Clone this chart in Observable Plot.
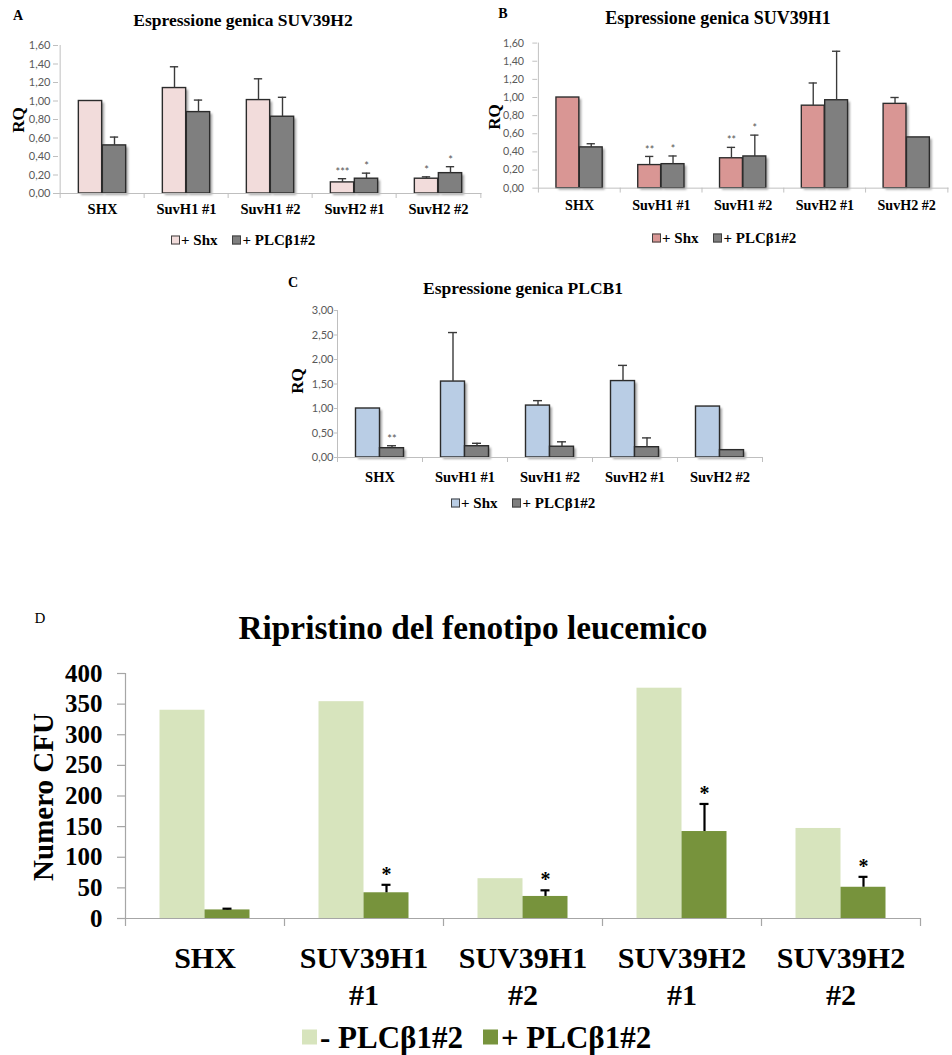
<!DOCTYPE html>
<html><head><meta charset="utf-8">
<script src="https://cdn.jsdelivr.net/npm/d3@7"></script>
<script src="https://cdn.jsdelivr.net/npm/@observablehq/plot@0.6"></script>
<style>
body{margin:0;background:#fff;overflow:hidden;}
#page{position:relative;width:952px;height:1055px;overflow:hidden;font-family:"Liberation Serif",serif;color:#000;}
.abs{position:absolute;white-space:nowrap;line-height:1;}
.plot{position:absolute;}
.plot svg{overflow:visible;}
.leg{position:absolute;display:flex;align-items:center;white-space:nowrap;font-weight:bold;line-height:1;transform:translateY(-50%);}
.sw{display:inline-block;box-sizing:border-box;}
</style></head><body><div id="page"></div>
<script>
// ---------- DATA ----------
const categoriesRQ = ["SHX", "SuvH1 #1", "SuvH1 #2", "SuvH2 #1", "SuvH2 #2"];
const seriesRQ = ["+ Shx", "+ PLCβ1#2"];
const ticksRQ16 = [0, 0.2, 0.4, 0.6, 0.8, 1.0, 1.2, 1.4, 1.6];
const ticksRQ3 = [0, 0.5, 1.0, 1.5, 2.0, 2.5, 3.0];

// A: Espressione genica SUV39H2
const aShx    = [1.00, 1.14, 1.01, 0.12, 0.16];
const aShxSd  = [null, 0.23, 0.23, 0.04, 0.02];
const aShxSig = ["", "", "", "***", "*"];
const aPlc    = [0.52, 0.88, 0.83, 0.16, 0.22];
const aPlcSd  = [0.09, 0.13, 0.21, 0.06, 0.07];
const aPlcSig = ["", "", "", "*", "*"];

// B: Espressione genica SUV39H1
const bShx    = [1.00, 0.255, 0.33, 0.91, 0.93];
const bShxSd  = [null, 0.095, 0.12, 0.25, 0.07];
const bShxSig = ["", "**", "**", "", ""];
const bPlc    = [0.45, 0.265, 0.35, 0.97, 0.56];
const bPlcSd  = [0.04, 0.09, 0.235, 0.54, null];
const bPlcSig = ["", "*", "*", "", ""];

// C: Espressione genica PLCB1
const cShx    = [1.00, 1.55, 1.06, 1.56, 1.04];
const cShxSd  = [null, 1.00, 0.10, 0.32, null];
const cShxSig = ["", "", "", "", ""];
const cPlc    = [0.19, 0.23, 0.22, 0.21, 0.15];
const cPlcSd  = [0.05, 0.06, 0.10, 0.19, null];
const cPlcSig = ["**", "", "", "", ""];

// D: Ripristino del fenotipo leucemico
const categoriesD = ["SHX", "SUV39H1\n#1", "SUV39H1\n#2", "SUV39H2\n#1", "SUV39H2\n#2"];
const seriesD = ["- PLCβ1#2", "+ PLCβ1#2"];
const ticksD = [0, 50, 100, 150, 200, 250, 300, 350, 400];
const dMinus    = [340, 354, 65, 376, 147];
const dPlus     = [14, 42, 36, 142, 51];
const dPlusSd   = [2, 13, 10, 45, 17];
const dPlusSig  = ["", "*", "*", "*", "*"];
const dMinusSd  = [null, null, null, null, null];
const dMinusSig = ["", "", "", "", ""];

// ---------- HELPERS ----------
const page = document.getElementById("page");
function text(str, x, y, css) {
  const d = document.createElement("div");
  d.className = "abs";
  d.textContent = str;
  Object.assign(d.style, {left: x + "px", top: y + "px", transform: "translate(-50%,-50%)" + (css.rotate ? " rotate(-90deg)" : "")}, css.style || {});
  page.appendChild(d);
}
function legend(x, y, items, sw, font) {
  const d = document.createElement("div");
  d.className = "leg";
  Object.assign(d.style, {left: x + "px", top: y + "px", fontSize: font.size + "px", gap: "0px"});
  items.forEach((it, i) => {
    const s = document.createElement("span");
    s.className = "sw";
    Object.assign(s.style, {width: sw.w + "px", height: sw.h + "px", background: it.color, border: sw.border, marginRight: sw.gap + "px", marginLeft: i ? font.sep + "px" : "0px"});
    const t = document.createElement("span");
    t.textContent = it.label;
    d.appendChild(s); d.appendChild(t);
  });
  page.appendChild(d);
}
function rows(cats, vals, sds, sigs) {
  return cats.map((c, i) => ({cat: c, value: vals[i], sd: sds[i], top: vals[i] + (sds[i] ?? 0), sig: sigs[i]}));
}

function panel(o) {
  const cats = o.cats;
  const bw = (o.width - o.ml - o.mr) / cats.length;
  const inset = (bw - o.barW) / 2;
  const capInset = (bw - o.capW) / 2;
  const s1 = rows(cats, o.v1, o.sd1, o.sig1), s2 = rows(cats, o.v2, o.sd2, o.sig2);
  const marks = [];
  const bars = (data, dx, fill) => {
    if (o.shadow) marks.push(Plot.barY(data, {x: "cat", y: "value", dx: dx + 2.5, dy: 2, insetLeft: inset, insetRight: inset, fill: "#000", fillOpacity: 0.35}));
    marks.push(Plot.barY(data, {x: "cat", y: "value", dx, insetLeft: inset, insetRight: inset, fill, stroke: o.barStroke, strokeWidth: o.barStrokeWidth}));
  };
  bars(s1, -o.barW / 2, o.c1);
  bars(s2, o.barW / 2, o.c2);
  [[s1, -o.barW / 2], [s2, o.barW / 2]].forEach(([data, dx]) => {
    const e = data.filter(d => d.sd != null);
    marks.push(Plot.ruleX(e, {x: "cat", y1: "value", y2: "top", dx, stroke: o.errColor, strokeWidth: o.errWidth}));
    marks.push(Plot.tickY(e, {x: "cat", y: "top", dx, insetLeft: capInset, insetRight: capInset, stroke: o.errColor, strokeWidth: o.errWidth}));
    marks.push(Plot.text(data.filter(d => d.sig), {x: "cat", y: "top", text: "sig", dx, dy: o.starDy, lineAnchor: "bottom", fontSize: o.starSize, fontFamily: o.starFont, fontWeight: o.starWeight, fill: o.starColor}));
  });
  // axes lines
  marks.push(Plot.ruleY([0], {stroke: o.axisColor, strokeWidth: o.axisWidth}));
  marks.push(Plot.ruleX([cats[0]], {dx: -bw / 2, stroke: o.axisColor, strokeWidth: o.axisWidth}));
  marks.push(Plot.ruleX(cats, {y1: 0, y2: 0, insetBottom: -o.xTick, dx: -bw / 2, stroke: o.axisColor, strokeWidth: o.axisWidth}));
  marks.push(Plot.ruleX([cats[cats.length - 1]], {y1: 0, y2: 0, insetBottom: -o.xTick, dx: bw / 2, stroke: o.axisColor, strokeWidth: o.axisWidth}));
  marks.push(Plot.axisY({ticks: o.yTicks, tickFormat: o.yFormat, tickSize: o.yTick, tickPadding: o.yPad, stroke: o.axisColor, strokeWidth: o.axisWidth, fill: o.yColor, fontSize: o.ySize, fontFamily: o.yFont, fontWeight: o.yWeight, label: null}));
  marks.push(Plot.axisX({tickSize: 0, tickPadding: o.xPad, fill: "#000", fontSize: o.xSize, fontFamily: "Liberation Serif", fontWeight: "bold", lineHeight: o.xLine || 1, label: null}));
  const svg = Plot.plot({
    width: o.width, height: o.height,
    marginLeft: o.ml, marginRight: o.mr, marginTop: o.mt, marginBottom: o.mb,
    x: {domain: cats, padding: 0, label: null},
    y: {domain: [0, o.yMax], label: null},
    style: {background: "transparent", overflow: "visible"},
    marks
  });
  if (o.shadow) {
    const sel = d3.select(svg);
    const f = sel.append("defs").append("filter").attr("id", o.id + "blur").attr("x", "-20%").attr("y", "-20%").attr("width", "140%").attr("height", "140%");
    f.append("feGaussianBlur").attr("stdDeviation", 1.3);
    sel.selectAll('g[aria-label="bar"]').filter((d, i) => i % 2 === 0).attr("filter", `url(#${o.id}blur)`);
  }
  const wrap = document.createElement("div");
  wrap.className = "plot";
  Object.assign(wrap.style, {left: o.left + "px", top: o.top + "px"});
  wrap.appendChild(svg);
  page.appendChild(wrap);
}

const rqCommon = {
  cats: categoriesRQ, barW: 24, capW: 9, shadow: true, barStroke: "#2b2b2b", barStrokeWidth: 1.4,
  errColor: "#3a3a3a", errWidth: 1.4, starDy: -3, starSize: 11, starFont: "Lato", starWeight: "normal", starColor: "#555",
  axisColor: "#bfbfbf", axisWidth: 1, xTick: 5, yTick: 5, yPad: 3, yColor: "#595959", ySize: 11, yFont: "Lato", yWeight: "normal",
  yFormat: d => d.toFixed(2).replace(".", ","), xSize: 14.5, c2: "#7f7f7f"
};
const serifBold = s => ({style: {fontSize: s + "px", fontWeight: "bold", fontFamily: "Liberation Serif"}});

// ---------- PANEL A ----------
panel({...rqCommon, id: "A", left: 0, top: 30, width: 485, height: 200, ml: 58, mr: 3.5, mt: 15, mb: 37, xPad: 10,
  yMax: 1.6, yTicks: ticksRQ16, v1: aShx, sd1: aShxSd, sig1: aShxSig, v2: aPlc, sd2: aPlcSd, sig2: aPlcSig, c1: "#f2dcdb"});
text("A", 18, 16, serifBold(14));
text("Espressione genica SUV39H2", 243, 21, serifBold(17.5));
text("RQ", 18, 120, {rotate: true, ...serifBold(17)});
legend(171, 240, [{label: seriesRQ[0], color: "#f2dcdb"}, {label: seriesRQ[1], color: "#7f7f7f"}], {w: 9, h: 9, border: "1px solid #404040", gap: 1}, {size: 15, sep: 15});

// ---------- PANEL B ----------
panel({...rqCommon, id: "B", left: 470, top: 28, width: 495, height: 200, ml: 69, mr: 3.5, mt: 15, mb: 36, xPad: 12, yPad: 9,
  yMax: 1.6, yTicks: ticksRQ16, v1: bShx, sd1: bShxSd, sig1: bShxSig, v2: bPlc, sd2: bPlcSd, sig2: bPlcSig, c1: "#d99694"});
text("B", 503, 14, serifBold(14));
text("Espressione genica SUV39H1", 718, 18, serifBold(18));
text("RQ", 494, 117, {rotate: true, ...serifBold(17)});
legend(652, 238, [{label: seriesRQ[0], color: "#d99694"}, {label: seriesRQ[1], color: "#7f7f7f"}], {w: 9, h: 9, border: "1px solid #404040", gap: 1}, {size: 15, sep: 15});

// ---------- PANEL C ----------
panel({...rqCommon, id: "C", left: 280, top: 295, width: 500, height: 195, ml: 57, mr: 18, mt: 15, mb: 33, xPad: 14, yPad: 1, yTick: 3,
  yMax: 3, yTicks: ticksRQ3, v1: cShx, sd1: cShxSd, sig1: cShxSig, v2: cPlc, sd2: cPlcSd, sig2: cPlcSig, c1: "#b9cde5"});
text("C", 293, 283, serifBold(14));
text("Espressione genica PLCB1", 523, 289, serifBold(17.5));
text("RQ", 297, 381, {rotate: true, ...serifBold(17)});
legend(451, 503, [{label: seriesRQ[0], color: "#b9cde5"}, {label: seriesRQ[1], color: "#7f7f7f"}], {w: 9, h: 9, border: "1px solid #404040", gap: 1}, {size: 15, sep: 15});

// ---------- PANEL D ----------
panel({cats: categoriesD, id: "D", left: 0, top: 655, width: 952, height: 360, ml: 125, mr: 32, mt: 18, mb: 97,
  barW: 45, capW: 9, shadow: false, barStroke: "none", barStrokeWidth: 0,
  errColor: "#000", errWidth: 2.2, starDy: -4, starSize: 20, starFont: "Liberation Serif", starWeight: "bold", starColor: "#000",
  axisColor: "#a6a6a6", axisWidth: 1.2, xTick: 8, yTick: 8, yPad: 15, yColor: "#000", ySize: 25, yFont: "Liberation Serif", yWeight: "bold",
  yFormat: d => String(d), xSize: 30, xPad: 23, xLine: 1.23,
  yMax: 400, yTicks: ticksD, v1: dMinus, sd1: dMinusSd, sig1: dMinusSig, v2: dPlus, sd2: dPlusSd, sig2: dPlusSig, c1: "#d7e4bd", c2: "#77933c"});
text("D", 40, 618, {style: {fontSize: "15px", fontFamily: "Liberation Serif"}});
text("Ripristino del fenotipo leucemico", 473, 628, serifBold(33.3));
text("Numero CFU", 43, 797, {rotate: true, ...serifBold(29)});
legend(302, 1037, [{label: seriesD[0], color: "#d7e4bd"}, {label: seriesD[1], color: "#77933c"}], {w: 15, h: 15, border: "none", gap: 3}, {size: 31, sep: 20});
</script></body></html>
